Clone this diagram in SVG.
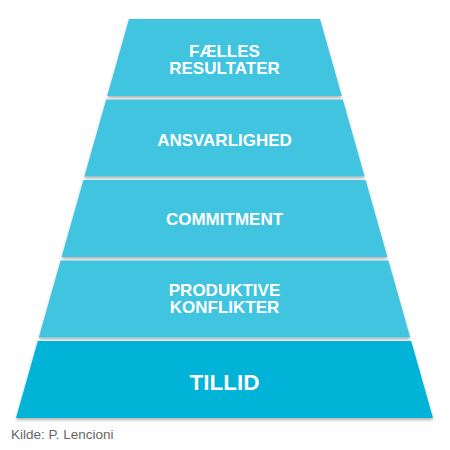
<svg xmlns="http://www.w3.org/2000/svg" width="450" height="450" viewBox="0 0 450 450">
<defs>
<filter id="sh" x="-10%" y="-10%" width="120%" height="130%">
<feDropShadow dx="0" dy="2" stdDeviation="1.5" flood-color="#000" flood-opacity="0.3"/>
</filter>
<style>
.t{fill:#40C4E0;filter:url(#sh)}
.b{fill:#00B3D7;filter:url(#sh)}
.lbl{font-family:"Liberation Sans",Arial,sans-serif;font-weight:bold;fill:#fff;text-anchor:middle;font-size:17px}
.big{font-size:22.5px}
.src{font-family:"Liberation Sans",Arial,sans-serif;fill:#666;font-size:13.5px}
</style>
</defs>
<rect width="450" height="450" fill="#fff"/>
<g id="tier-fælles-resultater">
<polygon class="t" points="129,19 320,19 341.8,96 107.2,96"/>
<text class="lbl" x="224.5" y="56.5">FÆLLES</text>
<text class="lbl" x="224.5" y="74.3">RESULTATER</text>
</g>
<g id="tier-ansvarlighed">
<polygon class="t" points="106.2,99.5 342.8,99.5 364.6,176.5 84.4,176.5"/>
<text class="lbl" x="224.5" y="146">ANSVARLIGHED</text>
</g>
<g id="tier-commitment">
<polygon class="t" points="83.4,180 365.6,180 387.4,257 61.6,257"/>
<text class="lbl" x="224.5" y="225">COMMITMENT</text>
</g>
<g id="tier-produktive-konflikter">
<polygon class="t" points="60.6,260.5 388.4,260.5 410.2,337.5 38.8,337.5"/>
<text class="lbl" x="224.5" y="295.5">PRODUKTIVE</text>
<text class="lbl" x="224.5" y="313.3">KONFLIKTER</text>
</g>
<g id="tier-tillid">
<polygon class="b" points="37.8,341 411.2,341 433,418 16,418"/>
<text class="lbl big" x="224.5" y="390">TILLID</text>
</g>
<g id="connectors"/>
<text class="src" x="11" y="439">Kilde: P. Lencioni</text>
</svg>
